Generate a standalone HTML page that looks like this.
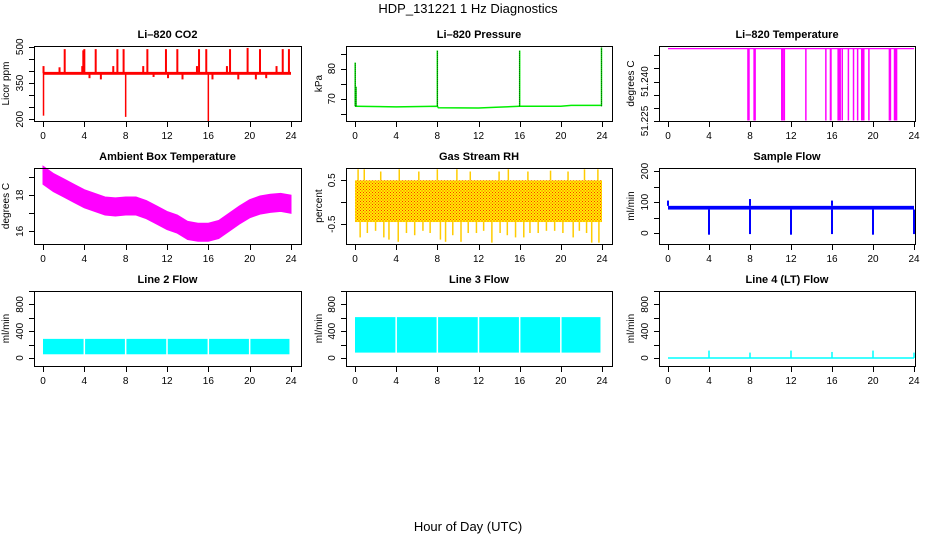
<!DOCTYPE html>
<html><head><meta charset="utf-8"><style>
html,body{margin:0;padding:0;background:#fff}
svg{display:block;font-family:"Liberation Sans",Arial,sans-serif}
</style></head><body>
<svg id="c" width="936" height="540" viewBox="0 0 936 540">
<defs>
<pattern id="rhpat" width="3" height="3" patternUnits="userSpaceOnUse">
<rect width="3" height="3" fill="#ffee00"/><rect width="1" height="1" fill="#ff3300"/><rect x="1.5" y="1.5" width="1" height="1" fill="#ff3300"/>
</pattern>
</defs>
<text x="468" y="13" text-anchor="middle" font-size="13">HDP_131221 1 Hz Diagnostics</text>
<text x="468" y="531" text-anchor="middle" font-size="13">Hour of Day (UTC)</text>
</svg>
<script>
// ---- data ----
const xTicks=[0,4,8,12,16,20,24];
const co2Base=390;
const co2SpikeHours=[0.05,2.1,3.9,4.0,5.1,7.2,7.8,10.1,11.9,13.0,15.1,15.8,18.1,19.8,21.0,23.2,23.8];
const co2SpikeVals=[420,490,485,490,490,490,490,490,490,490,490,490,490,495,490,490,490];
const co2SmallHours=[1.6,3.8,4.5,5.6,6.8,9.7,10.7,12.1,13.5,14.9,16.4,17.8,18.9,20.6,21.6,22.6];
const co2SmallVals=[415,420,370,365,420,420,375,370,365,420,365,420,365,365,370,420];
const co2DipHours=[0.05,8.0,16.0];
const co2DipVals=[215,210,190];
const co2Ticks=[200,250,300,350,400,450,500];
const co2Labels=[200,350,500];

const presHours=[0,4,8,8.1,12,14,16,20,21,24];
const presVals=[67.5,67.3,67.5,67.0,66.9,67.2,67.5,67.5,67.8,67.8];
const presSpikeHours=[0.02,0.1,8.0,16.0,23.95];
const presSpikeVals=[82,74,86,86,87];
const presTicks=[65,70,75,80,85];
const presLabels=[70,80];

const ltBase=51.2525;
const ltDropHours=[7.8,7.9,8.4,8.5,11.1,11.2,11.35,13.45,15.4,15.85,15.9,16.6,16.7,16.8,17.0,17.6,18.1,18.5,18.9,19.0,19.1,19.6,21.6,21.7,22.1,22.2,22.3];
const ltTicks=[51.225,51.23,51.235,51.24,51.245,51.25];
const ltLabels=[51.225,51.24];

const ambHours=[0,1,2,3,4,5,6,7,8,9,10,11,12,13,14,15,16,17,18,19,20,21,22,23,24];
const ambCenter=[19.1,18.7,18.4,18.1,17.8,17.6,17.4,17.35,17.4,17.4,17.2,16.9,16.6,16.4,16.05,15.95,15.95,16.1,16.5,16.9,17.25,17.45,17.55,17.6,17.5];
const ambHalf=0.5;
const ambTicks=[16,17,18,19];
const ambLabels=[16,18];

const rhLow=-0.45, rhHigh=0.5;
const rhSpikeHours=[0.5,1.2,2.0,2.8,3.3,4.2,5.0,5.8,6.6,7.3,8.3,8.8,9.5,10.3,11.0,11.8,12.5,13.3,14.1,14.8,15.6,16.4,17.0,17.8,18.6,19.4,20.2,21.2,21.8,22.5,23.0,23.7];
const rhSpikeVals=[-0.8,-0.7,-0.65,-0.8,-0.85,-0.9,-0.7,-0.75,-0.65,-0.7,-0.85,-0.9,-0.75,-0.9,-0.7,-0.7,-0.65,-0.92,-0.7,-0.75,-0.8,-0.8,-0.7,-0.7,-0.65,-0.65,-0.7,-0.8,-0.65,-0.7,-0.92,-0.92];
const rhTopHours=[0.3,0.9,2.5,4.3,6.2,8.0,9.9,11.2,14.0,14.9,16.8,19.0,20.7,22.3,23.6];
const rhTopVals=[0.75,0.75,0.7,0.75,0.7,0.75,0.75,0.7,0.7,0.75,0.7,0.72,0.7,0.75,0.75];
const rhTicks=[-0.5,0,0.5];
const rhLabels=[-0.5,0.5];

const sfLow=76, sfHigh=88;
const sfDipHours=[4,8,12,16,20,24];
const sfDipVals=[-5,-3,-5,-3,-5,-3];
const sfUpHours=[0.0,8.0,16.0];
const sfUpVals=[105,110,105];
const sfTicks=[0,50,100,150,200];
const sfLabels=[0,100,200];

const l2Low=55, l2High=285;
const l3Low=80, l3High=610;
const flowGaps=[4,8,12,16,20];
const l4SpikeHours=[4,8,12,16,20,24];
const l4SpikeVals=[110,80,110,90,110,80];
const flowTicks=[0,200,400,600,800,1000];
const flowLabels=[0,400,800];

// ---- drawing ----
const svg=document.getElementById('c');
const NS='http://www.w3.org/2000/svg';
function mk(tag,attrs,parent){const e=document.createElementNS(NS,tag);for(const k in attrs)e.setAttribute(k,attrs[k]);(parent||svg).appendChild(e);return e;}

const cols=[{l:34,r:301,x0:43,x1:291,lab:23,tit:9},{l:346,r:612,x0:355,x1:602,lab:335,tit:322},{l:659,r:915,x0:668,x1:914,lab:648,tit:634}];
const rows=[{t:46,b:121,ty:38},{t:168,b:244,ty:160},{t:291,b:366,ty:283}];

function panel(ci,ri,name,title,ytitle,ymin,ymax,ticks,labels,fmt){
  const c=cols[ci],r=rows[ri];
  const g=mk('g',{});
  
  
  const X=h=>c.x0+(c.x1-c.x0)*h/24;
  const Y=v=>r.b-(r.b-r.t)*(v-ymin)/(ymax-ymin);
  const t=mk('text',{x:(c.l+c.r)/2,y:r.ty,'text-anchor':'middle','font-size':11,'font-weight':'bold'},g);
  t.textContent=title;
  
  
  const plot=mk('g',{},g);
  const ax=mk('g',{stroke:'#000','stroke-width':1,fill:'none'},g);
  
  
  mk('rect',{x:c.l+0.5,y:r.t+0.5,width:c.r-c.l,height:r.b-r.t},ax);
  mk('line',{x1:X(0),x2:X(24),y1:r.b+0.5,y2:r.b+0.5},ax);
  xTicks.forEach(h=>{
    mk('line',{x1:Math.round(X(h))+0.5,x2:Math.round(X(h))+0.5,y1:r.b,y2:r.b+6},ax);
    const tl=mk('text',{x:X(h),y:r.b+18,'text-anchor':'middle','font-size':10,fill:'#000',stroke:'none'},g);
    tl.textContent=h;
    
    
  });
  ticks.forEach(v=>{const y=Math.round(Y(v))+0.5;mk('line',{x1:c.l-5,x2:c.l,y1:y,y2:y},ax);});
  labels.forEach(v=>{
    const y=Y(v);
    const tl=mk('text',{x:c.lab,y:y,'text-anchor':'middle','font-size':10,transform:`rotate(-90 ${c.lab} ${y})`},g);
    tl.textContent=fmt?fmt(v):v;
    
    
  });
  const yt=mk('text',{x:c.tit,y:(r.t+r.b)/2,'text-anchor':'middle','font-size':10,transform:`rotate(-90 ${c.tit} ${(r.t+r.b)/2})`},g);
  yt.textContent=ytitle;
  
  
  return {X,Y,g:plot};
}
function vline(p,h,v1,v2,col,w){mk('line',{x1:p.X(h),x2:p.X(h),y1:p.Y(v1),y2:p.Y(v2),stroke:col,'stroke-width':w||1.5},p.g);}

// CO2
let p=panel(0,0,'co2-panel','Li\u2013820 CO2','Licor ppm',193,503,co2Ticks,co2Labels);
mk('rect',{x:p.X(0),y:p.Y(co2Base+6),width:p.X(24)-p.X(0),height:p.Y(co2Base-6)-p.Y(co2Base+6),fill:'#ff0000'},p.g);
co2SpikeHours.forEach((h,i)=>vline(p,h,co2Base,co2SpikeVals[i],'#ff0000',2));
co2SmallHours.forEach((h,i)=>vline(p,h,co2Base,co2SmallVals[i],'#ff0000',2));
co2DipHours.forEach((h,i)=>vline(p,h,co2Base,co2DipVals[i],'#ff0000',1.5));

// Pressure
p=panel(1,0,'pressure-panel','Li\u2013820 Pressure','kPa',62.6,87.5,presTicks,presLabels);
mk('polyline',{points:presHours.map((h,i)=>p.X(h)+','+p.Y(presVals[i])).join(' '),fill:'none',stroke:'#00ee00','stroke-width':1.5},p.g);
presSpikeHours.forEach((h,i)=>{vline(p,h,presVals[0],presSpikeVals[i],'#00ee00',1.5);mk('line',{x1:p.X(h),x2:p.X(h),y1:p.Y(presVals[0]),y2:p.Y(presSpikeVals[i]),stroke:'#000','stroke-width':0.7,'stroke-dasharray':'1 1'},p.g);});

// Li-820 temperature
p=panel(2,0,'li820-temperature-panel','Li\u2013820 Temperature','degrees C',51.225,51.2535,ltTicks,ltLabels,v=>v.toFixed(3));
mk('line',{x1:p.X(0),x2:p.X(24),y1:p.Y(ltBase),y2:p.Y(ltBase),stroke:'#ff00ff','stroke-width':1.2},p.g);
ltDropHours.forEach(h=>vline(p,h,ltBase,51.2252,'#ff00ff',1.5));

// Ambient
p=panel(0,1,'ambient-temperature-panel','Ambient Box Temperature','degrees C',15.3,19.5,ambTicks,ambLabels);
{const up=ambHours.map((h,i)=>p.X(h)+','+p.Y(ambCenter[i]+ambHalf));const dn=ambHours.map((h,i)=>p.X(h)+','+p.Y(ambCenter[i]-ambHalf)).reverse();
mk('polygon',{points:up.concat(dn).join(' '),fill:'#ff00ff',stroke:'#ff00ff','stroke-width':1},p.g);}

// RH
p=panel(1,1,'gas-stream-rh-panel','Gas Stream RH','percent',-0.95,0.78,rhTicks,rhLabels);
mk('rect',{x:p.X(0),y:p.Y(rhHigh),width:p.X(24)-p.X(0),height:p.Y(rhLow)-p.Y(rhHigh),fill:'url(#rhpat)'},p.g);
rhSpikeHours.forEach((h,i)=>vline(p,h,rhLow,rhSpikeVals[i],'#ffcc00',1.5));
rhTopHours.forEach((h,i)=>vline(p,h,rhHigh,rhTopVals[i],'#ffcc00',1.5));

// Sample flow
p=panel(2,1,'sample-flow-panel','Sample Flow','ml/min',-35,210,sfTicks,sfLabels);
mk('rect',{x:p.X(0),y:p.Y(sfHigh),width:p.X(24)-p.X(0),height:p.Y(sfLow)-p.Y(sfHigh),fill:'#0000ff'},p.g);
sfDipHours.forEach((h,i)=>vline(p,h,sfLow,sfDipVals[i],'#0000ff',2));
sfUpHours.forEach((h,i)=>vline(p,h,sfHigh,sfUpVals[i],'#0000ff',2));

// Line flows
function flowBand(p,lo,hi){
  mk('rect',{x:p.X(0),y:p.Y(hi),width:p.X(23.85)-p.X(0),height:p.Y(lo)-p.Y(hi),fill:'#00ffff'},p.g);
  flowGaps.forEach(h=>mk('line',{x1:p.X(h),x2:p.X(h),y1:p.Y(hi)-1,y2:p.Y(lo)+1,stroke:'#fff','stroke-width':1.5},p.g));
}
p=panel(0,2,'line2-flow-panel','Line 2 Flow','ml/min',-120,1000,flowTicks,flowLabels);
flowBand(p,l2Low,l2High);
p=panel(1,2,'line3-flow-panel','Line 3 Flow','ml/min',-120,1000,flowTicks,flowLabels);
flowBand(p,l3Low,l3High);
p=panel(2,2,'line4-flow-panel','Line 4 (LT) Flow','ml/min',-120,1000,flowTicks,flowLabels);
mk('line',{x1:p.X(0),x2:p.X(24),y1:p.Y(0),y2:p.Y(0),stroke:'#00ffff','stroke-width':1.5},p.g);
l4SpikeHours.forEach((h,i)=>vline(p,h,0,l4SpikeVals[i],'#00ffff',1.5));
</script>
</body></html>
